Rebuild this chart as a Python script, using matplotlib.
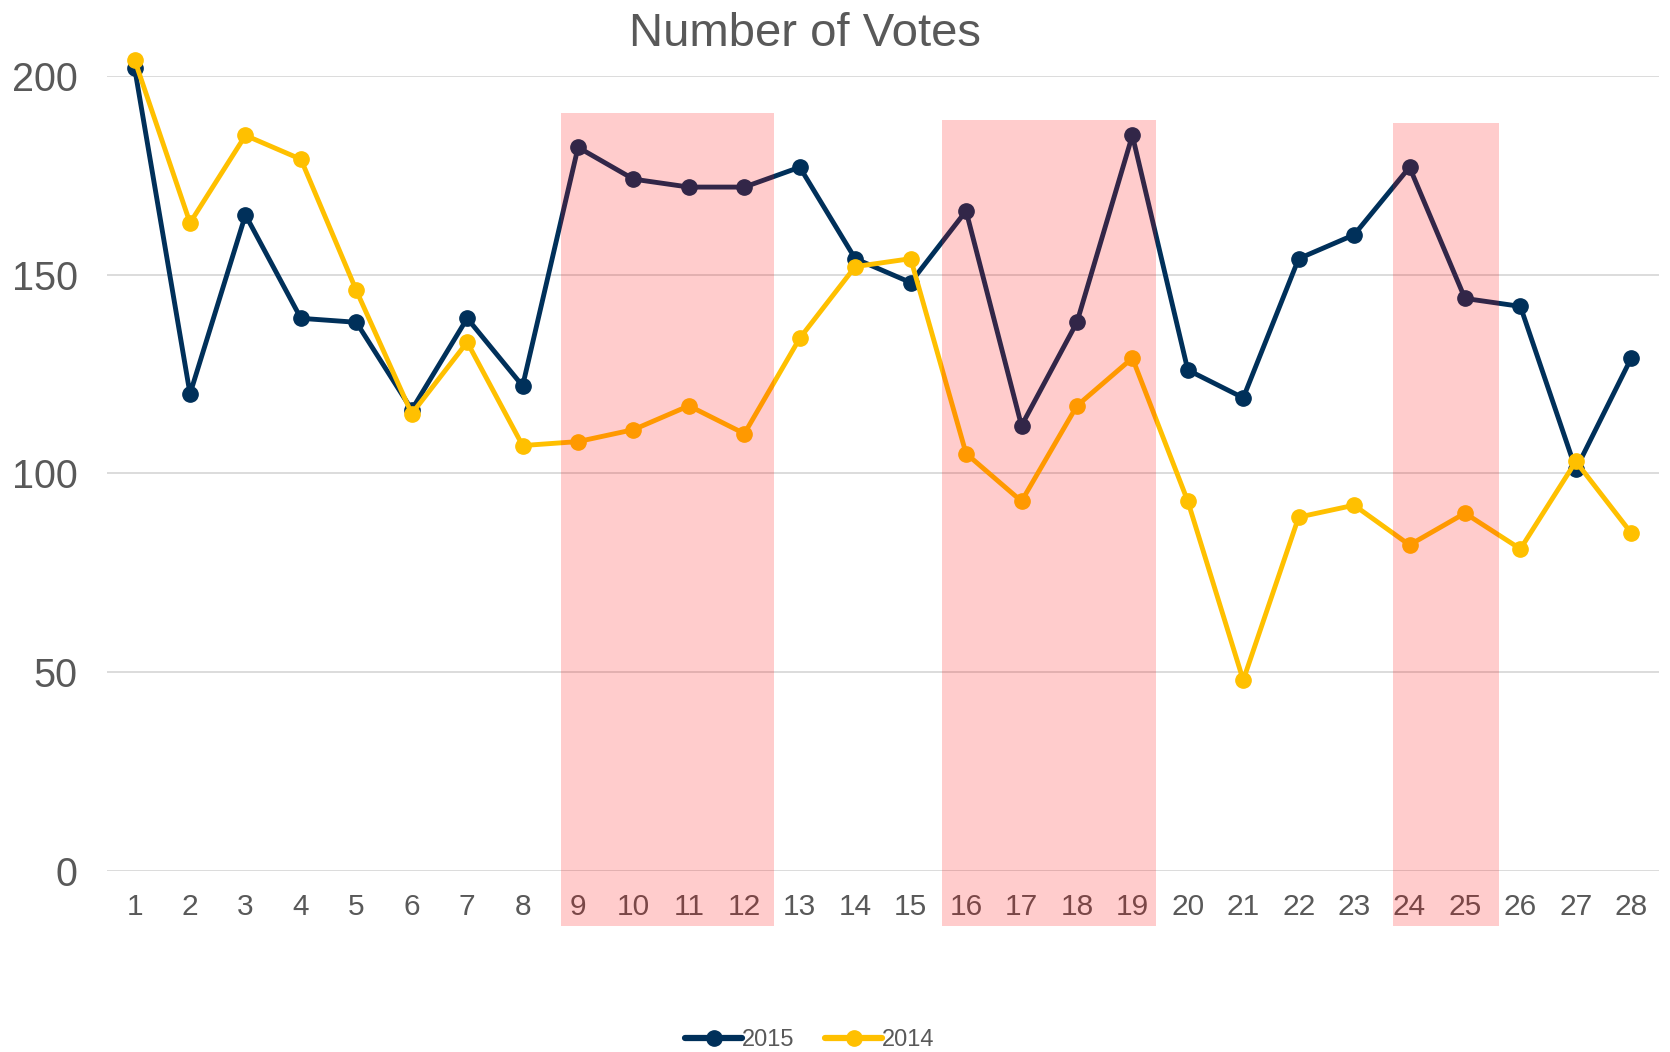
import matplotlib
matplotlib.use('Agg')
import matplotlib.pyplot as plt
from matplotlib.patches import Rectangle
from matplotlib.lines import Line2D

plt.rcParams['font.family'] = ['Liberation Sans', 'DejaVu Sans']

days = list(range(1, 29))
votes_2015 = [202, 120, 165, 139, 138, 116, 139, 122, 182, 174, 172, 172, 177, 154,
              148, 166, 112, 138, 185, 126, 119, 154, 160, 177, 144, 142, 101, 129]
votes_2014 = [204, 163, 185, 179, 146, 115, 133, 107, 108, 111, 117, 110, 134, 152,
              154, 105, 93, 117, 129, 93, 48, 89, 92, 82, 90, 81, 103, 85]
yticks = [0, 50, 100, 150, 200]

# highlighted stretches (x from, x to, y top)
spans = [(8.69, 12.53, 190.6), (15.57, 19.43, 188.8), (23.71, 25.62, 188.2)]

navy = '#00305A'
gold = '#FFC000'
grey = '#595959'

fig = plt.figure(figsize=(16.7, 10.52), dpi=100)
ax = fig.add_axes([0.064, 0.172, 0.9294, 0.756])

ax.plot(days, votes_2015, color=navy, lw=3.5, marker='o', ms=11, clip_on=False, zorder=3)
ax.plot(days, votes_2014, color=gold, lw=3.5, marker='o', ms=11, clip_on=False, zorder=4)

for x0, x1, top in spans:
    ax.add_patch(Rectangle((x0, -13.8), x1 - x0, top + 13.8, facecolor='red',
                           alpha=0.2, lw=0, clip_on=False, zorder=6))

ax.set_xlim(0.5, 28.5)
ax.set_ylim(0, 200)
ax.set_xticks(days)
ax.set_yticks(yticks)
ax.tick_params(axis='x', length=0, pad=16, labelsize=21.5, labelcolor=grey)
ax.tick_params(axis='y', length=0, pad=21, labelsize=28.5, labelcolor=grey)
ax.yaxis.grid(True, color='#D9D9D9', lw=1.3)
ax.set_axisbelow(True)
for s in ax.spines.values():
    s.set_visible(False)

fig.text(0.482, 0.968, 'Number of Votes', ha='center', va='center', fontsize=34, color=grey)

handles = [Line2D([], [], color=navy, lw=4.5, marker='o', ms=11, solid_capstyle='round'),
           Line2D([], [], color=gold, lw=4.5, marker='o', ms=11, solid_capstyle='round')]
fig.legend(handles, ['2015', '2014'], loc='center', bbox_to_anchor=(0.485, 0.011),
           ncol=2, frameon=False, fontsize=17, labelcolor=grey, handlelength=2.4,
           handletextpad=0.0, columnspacing=1.3)

fig.savefig('out.png', dpi=100)
